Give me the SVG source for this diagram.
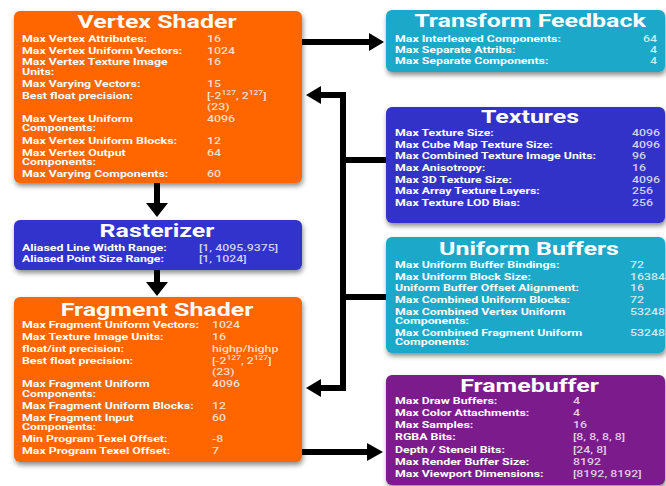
<svg xmlns="http://www.w3.org/2000/svg" width="666" height="486" viewBox="0 0 666 486">
<defs>
<filter id="sh" x="-10%" y="-10%" width="120%" height="130%">
<feDropShadow dx="1" dy="3" stdDeviation="2.5" flood-color="#000" flood-opacity="0.45"/>
</filter>
</defs>
<style>
text{font-family:Roboto,"Liberation Sans",sans-serif;fill:#fff}
.t{font-size:19.2px;font-weight:bold;text-anchor:middle}
.l{font-size:9.5px;font-weight:bold}
.v{font-size:9.5px;font-weight:500;fill-opacity:0.78}
.e{text-anchor:end}
.sup{font-size:6.5px}
.box{filter:url(#sh)}
.conn{stroke:#000;stroke-width:6;fill:none}
.head{fill:#000}
</style>
<rect width="666" height="486" fill="#fff"/>

<g id="connectors">
<path class="conn" d="M300 42H372"/>
<polygon class="head" points="369,33 384,42 369,51"/>
<path class="conn" d="M157 181V205"/>
<polygon class="head" points="146,203 168,203 157,217"/>
<path class="conn" d="M157 268V283"/>
<polygon class="head" points="146,282 168,282 157,296"/>
<path class="conn" d="M319 95H343V388H319"/>
<polygon class="head" points="321,86 306,95 321,104"/>
<polygon class="head" points="321,379 306,388 321,397"/>
<path class="conn" d="M343 160H388M343 297H388"/>
<path class="conn" d="M300 452H370"/>
<polygon class="head" points="367,443 383,452 367,461"/>
</g>

<g id="vertex-shader">
<rect class="box" x="14" y="11" width="288" height="172" rx="6" fill="#FF6600"/>
<text class="t" transform="matrix(1.3 0 0 1 157 28)">Vertex Shader</text>
<text class="l" transform="matrix(1.3 0 0 1 22 42)">Max Vertex Attributes:</text>
<text class="v" transform="matrix(1.3 0 0 1 207 42)">16</text>
<text class="l" transform="matrix(1.3 0 0 1 22 53.5)">Max Vertex Uniform Vectors:</text>
<text class="v" transform="matrix(1.3 0 0 1 207 53.5)">1024</text>
<text class="l" transform="matrix(1.3 0 0 1 22 65)">Max Vertex Texture Image</text>
<text class="l" transform="matrix(1.3 0 0 1 22 74.5)">Units:</text>
<text class="v" transform="matrix(1.3 0 0 1 207 65)">16</text>
<text class="l" transform="matrix(1.3 0 0 1 22 87)">Max Varying Vectors:</text>
<text class="v" transform="matrix(1.3 0 0 1 207 87)">15</text>
<text class="l" transform="matrix(1.3 0 0 1 22 99)">Best float precision:</text>
<text class="v" transform="matrix(1.3 0 0 1 207 99)">[-2<tspan class="sup" dy="-4">127</tspan><tspan dy="4">, 2</tspan><tspan class="sup" dy="-4">127</tspan><tspan dy="4">]</tspan></text>
<text class="v" transform="matrix(1.3 0 0 1 207 110)">(23)</text>
<text class="l" transform="matrix(1.3 0 0 1 22 122)">Max Vertex Uniform</text>
<text class="l" transform="matrix(1.3 0 0 1 22 131)">Components:</text>
<text class="v" transform="matrix(1.3 0 0 1 207 122)">4096</text>
<text class="l" transform="matrix(1.3 0 0 1 22 143.5)">Max Vertex Uniform Blocks:</text>
<text class="v" transform="matrix(1.3 0 0 1 207 143.5)">12</text>
<text class="l" transform="matrix(1.3 0 0 1 22 155.5)">Max Vertex Output</text>
<text class="l" transform="matrix(1.3 0 0 1 22 164.5)">Components:</text>
<text class="v" transform="matrix(1.3 0 0 1 207 155.5)">64</text>
<text class="l" transform="matrix(1.3 0 0 1 22 177)">Max Varying Components:</text>
<text class="v" transform="matrix(1.3 0 0 1 207 177)">60</text>
</g>

<g id="rasterizer">
<rect class="box" x="14" y="220" width="288" height="50" rx="6" fill="#3333CC"/>
<text class="t" transform="matrix(1.3 0 0 1 157 237)">Rasterizer</text>
<text class="l" transform="matrix(1.3 0 0 1 22 251)">Aliased Line Width Range:</text>
<text class="v" transform="matrix(1.3 0 0 1 199 251)">[1, 4095.9375]</text>
<text class="l" transform="matrix(1.3 0 0 1 22 262)">Aliased Point Size Range:</text>
<text class="v" transform="matrix(1.3 0 0 1 199 262)">[1, 1024]</text>
</g>

<g id="fragment-shader">
<rect class="box" x="14" y="297" width="288" height="165" rx="6" fill="#FF6600"/>
<text class="t" transform="matrix(1.3 0 0 1 157 316)">Fragment Shader</text>
<text class="l" transform="matrix(1.3 0 0 1 22 328)">Max Fragment Uniform Vectors:</text>
<text class="v" transform="matrix(1.3 0 0 1 212 328)">1024</text>
<text class="l" transform="matrix(1.3 0 0 1 22 340)">Max Texture Image Units:</text>
<text class="v" transform="matrix(1.3 0 0 1 212 340)">16</text>
<text class="l" transform="matrix(1.3 0 0 1 22 352)">float/int precision:</text>
<text class="v" transform="matrix(1.3 0 0 1 212 352)">highp/highp</text>
<text class="l" transform="matrix(1.3 0 0 1 22 364)">Best float precision:</text>
<text class="v" transform="matrix(1.3 0 0 1 212 364)">[-2<tspan class="sup" dy="-4">127</tspan><tspan dy="4">, 2</tspan><tspan class="sup" dy="-4">127</tspan><tspan dy="4">]</tspan></text>
<text class="v" transform="matrix(1.3 0 0 1 212 374.5)">(23)</text>
<text class="l" transform="matrix(1.3 0 0 1 22 387)">Max Fragment Uniform</text>
<text class="l" transform="matrix(1.3 0 0 1 22 396.5)">Components:</text>
<text class="v" transform="matrix(1.3 0 0 1 212 387)">4096</text>
<text class="l" transform="matrix(1.3 0 0 1 22 409)">Max Fragment Uniform Blocks:</text>
<text class="v" transform="matrix(1.3 0 0 1 212 409)">12</text>
<text class="l" transform="matrix(1.3 0 0 1 22 421)">Max Fragment Input</text>
<text class="l" transform="matrix(1.3 0 0 1 22 430)">Components:</text>
<text class="v" transform="matrix(1.3 0 0 1 212 421)">60</text>
<text class="l" transform="matrix(1.3 0 0 1 22 442)">Min Program Texel Offset:</text>
<text class="v" transform="matrix(1.3 0 0 1 212 442)">-8</text>
<text class="l" transform="matrix(1.3 0 0 1 22 454)">Max Program Texel Offset:</text>
<text class="v" transform="matrix(1.3 0 0 1 212 454)">7</text>
</g>

<g id="transform-feedback">
<rect class="box" x="386" y="10" width="279" height="62" rx="6" fill="#1BA8C8"/>
<text class="t" transform="matrix(1.3 0 0 1 530 27)">Transform Feedback</text>
<text class="l" transform="matrix(1.3 0 0 1 395 42)">Max Interleaved Components:</text>
<text class="v e" transform="matrix(1.3 0 0 1 657 42)">64</text>
<text class="l" transform="matrix(1.3 0 0 1 395 53)">Max Separate Attribs:</text>
<text class="v e" transform="matrix(1.3 0 0 1 657 53)">4</text>
<text class="l" transform="matrix(1.3 0 0 1 395 64)">Max Separate Components:</text>
<text class="v e" transform="matrix(1.3 0 0 1 657 64)">4</text>
</g>

<g id="textures">
<rect class="box" x="386" y="107" width="279" height="116" rx="6" fill="#3030C8"/>
<text class="t" transform="matrix(1.3 0 0 1 530 123)">Textures</text>
<text class="l" transform="matrix(1.3 0 0 1 395 136)">Max Texture Size:</text>
<text class="v" transform="matrix(1.3 0 0 1 632 136)">4096</text>
<text class="l" transform="matrix(1.3 0 0 1 395 147.5)">Max Cube Map Texture Size:</text>
<text class="v" transform="matrix(1.3 0 0 1 632 147.5)">4096</text>
<text class="l" transform="matrix(1.3 0 0 1 395 159)">Max Combined Texture Image Units:</text>
<text class="v" transform="matrix(1.3 0 0 1 632 159)">96</text>
<text class="l" transform="matrix(1.3 0 0 1 395 171)">Max Anisotropy:</text>
<text class="v" transform="matrix(1.3 0 0 1 632 171)">16</text>
<text class="l" transform="matrix(1.3 0 0 1 395 182.5)">Max 3D Texture Size:</text>
<text class="v" transform="matrix(1.3 0 0 1 632 182.5)">4096</text>
<text class="l" transform="matrix(1.3 0 0 1 395 194)">Max Array Texture Layers:</text>
<text class="v" transform="matrix(1.3 0 0 1 632 194)">256</text>
<text class="l" transform="matrix(1.3 0 0 1 395 206)">Max Texture LOD Bias:</text>
<text class="v" transform="matrix(1.3 0 0 1 632 206)">256</text>
</g>

<g id="uniform-buffers">
<rect class="box" x="386" y="237" width="279" height="116" rx="6" fill="#1BA8C8"/>
<text class="t" transform="matrix(1.3 0 0 1 529 255)">Uniform Buffers</text>
<text class="l" transform="matrix(1.3 0 0 1 395 268)">Max Uniform Buffer Bindings:</text>
<text class="v" transform="matrix(1.3 0 0 1 630 268)">72</text>
<text class="l" transform="matrix(1.3 0 0 1 395 279.5)">Max Uniform Block Size:</text>
<text class="v" transform="matrix(1.3 0 0 1 630 279.5)">16384</text>
<text class="l" transform="matrix(1.3 0 0 1 395 291)">Uniform Buffer Offset Alignment:</text>
<text class="v" transform="matrix(1.3 0 0 1 630 291)">16</text>
<text class="l" transform="matrix(1.3 0 0 1 395 303)">Max Combined Uniform Blocks:</text>
<text class="v" transform="matrix(1.3 0 0 1 630 303)">72</text>
<text class="l" transform="matrix(1.3 0 0 1 395 315)">Max Combined Vertex Uniform</text>
<text class="l" transform="matrix(1.3 0 0 1 395 324)">Components:</text>
<text class="v" transform="matrix(1.3 0 0 1 630 315)">53248</text>
<text class="l" transform="matrix(1.3 0 0 1 395 336)">Max Combined Fragment Uniform</text>
<text class="l" transform="matrix(1.3 0 0 1 395 345)">Components:</text>
<text class="v" transform="matrix(1.3 0 0 1 630 336)">53248</text>
</g>

<g id="framebuffer">
<rect class="box" x="386" y="375" width="279" height="110" rx="6" fill="#7B1A8C"/>
<text class="t" transform="matrix(1.3 0 0 1 529.5 392)">Framebuffer</text>
<text class="l" transform="matrix(1.3 0 0 1 395 403.5)">Max Draw Buffers:</text>
<text class="v" transform="matrix(1.3 0 0 1 573 403.5)">4</text>
<text class="l" transform="matrix(1.3 0 0 1 395 415.5)">Max Color Attachments:</text>
<text class="v" transform="matrix(1.3 0 0 1 573 415.5)">4</text>
<text class="l" transform="matrix(1.3 0 0 1 395 428)">Max Samples:</text>
<text class="v" transform="matrix(1.3 0 0 1 573 428)">16</text>
<text class="l" transform="matrix(1.3 0 0 1 395 440)">RGBA Bits:</text>
<text class="v" transform="matrix(1.3 0 0 1 573 440)">[8, 8, 8, 8]</text>
<text class="l" transform="matrix(1.3 0 0 1 395 452.5)">Depth / Stencil Bits:</text>
<text class="v" transform="matrix(1.3 0 0 1 573 452.5)">[24, 8]</text>
<text class="l" transform="matrix(1.3 0 0 1 395 464.5)">Max Render Buffer Size:</text>
<text class="v" transform="matrix(1.3 0 0 1 573 464.5)">8192</text>
<text class="l" transform="matrix(1.3 0 0 1 395 477)">Max Viewport Dimensions:</text>
<text class="v" transform="matrix(1.3 0 0 1 573 477)">[8192, 8192]</text>
</g>
</svg>
